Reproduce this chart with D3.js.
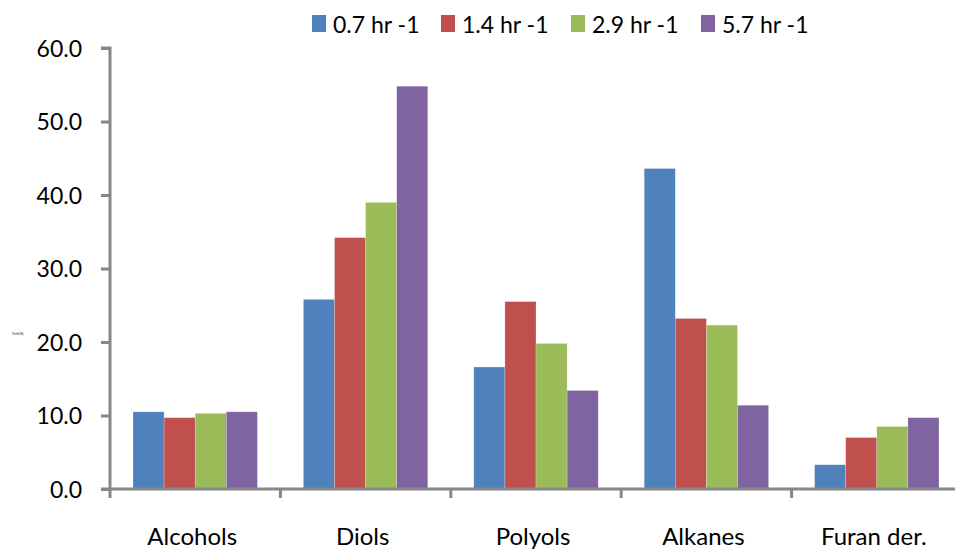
<!DOCTYPE html>
<html>
<head>
<meta charset="utf-8">
<script src="https://cdn.jsdelivr.net/npm/d3@7"></script>
<style>
  html, body { margin: 0; padding: 0; background: #fff; }
  svg { display: block; }
  text { font-family: "Lato", "Open Sans", sans-serif; fill: #000; }
</style>
</head>
<body>
<svg id="chart" width="955" height="550"></svg>
<script>
// Product groups and yields (%) at each space velocity
const categories = ["Alcohols", "Diols", "Polyols", "Alkanes", "Furan der."];
const seriesNames = ["0.7 hr -1", "1.4 hr -1", "2.9 hr -1", "5.7 hr -1"];
const seriesColors = ["#4F81BD", "#C0504D", "#9BBB59", "#8064A2"];
const values07 = [10.5, 25.8, 16.6, 43.6, 3.3];
const values14 = [9.7, 34.2, 25.5, 23.2, 7.0];
const values29 = [10.3, 39.0, 19.8, 22.3, 8.5];
const values57 = [10.5, 54.8, 13.4, 11.4, 9.7];
const yTicks = [0, 10, 20, 30, 40, 50, 60];

const seriesValues = [values07, values14, values29, values57];

const svg = d3.select("#chart");
const plotLeft = 110, plotRight = 962, plotTop = 48, plotBottom = 489;

const x = d3.scaleBand().domain(categories).range([plotLeft, plotRight]).paddingInner(0).paddingOuter(0);
const groupPad = 0.135;
const x1 = d3.scaleBand().domain(seriesNames)
  .range([x.bandwidth() * groupPad, x.bandwidth() * (1 - groupPad)]);
const y = d3.scaleLinear().domain([0, 60]).range([plotBottom, plotTop]);

const axisColor = "#878787";

// Bars
categories.forEach((cat, ci) => {
  seriesNames.forEach((s, si) => {
    const v = seriesValues[si][ci];
    svg.append("rect")
      .attr("x", x(cat) + x1(s))
      .attr("y", y(v))
      .attr("width", x1.bandwidth())
      .attr("height", y(0) - y(v))
      .attr("fill", seriesColors[si])
      .attr("stroke", "#ffffff")
      .attr("stroke-opacity", 0.35)
      .attr("stroke-width", 0.6);
  });
});

// Y axis
const yAxis = d3.axisLeft(y).tickValues(yTicks).tickFormat(d3.format(".1f")).tickSize(9).tickPadding(19);
const gy = svg.append("g").attr("transform", `translate(${plotLeft},0)`).call(yAxis);
gy.select(".domain").attr("stroke", axisColor).attr("stroke-width", 3).attr("d", `M-9,${plotTop}H0V${plotBottom}`);
gy.selectAll(".tick line").attr("stroke", axisColor).attr("stroke-width", 3);
gy.selectAll(".tick text").attr("font-size", 23).attr("font-family", "Lato, 'Open Sans', sans-serif").attr("fill", "#000").attr("dy", "0.36em");

// X axis: boundary ticks between categories
const xAxisG = svg.append("g");
xAxisG.append("line")
  .attr("x1", plotLeft - 9).attr("x2", 955)
  .attr("y1", plotBottom).attr("y2", plotBottom)
  .attr("stroke", axisColor).attr("stroke-width", 3);
const boundaries = categories.map(c => x(c));
xAxisG.selectAll(".xtick").data(boundaries).enter().append("line")
  .attr("x1", d => d).attr("x2", d => d)
  .attr("y1", plotBottom).attr("y2", plotBottom + 9)
  .attr("stroke", axisColor).attr("stroke-width", 3);
xAxisG.selectAll(".xlabel").data(categories).enter().append("text")
  .attr("x", d => x(d) + x.bandwidth() / 2 - 3)
  .attr("y", 545)
  .attr("text-anchor", "middle")
  .attr("font-size", 24)
  .text(d => d);

// Tiny axis title
svg.append("text").attr("x", 12).attr("y", 335).attr("font-size", 3).attr("fill", "#444").text("Yield (%)");

// Legend
const legendX = [312, 441, 571, 701];
const legend = svg.append("g");
seriesNames.forEach((s, i) => {
  legend.append("rect").attr("x", legendX[i]).attr("y", 15).attr("width", 14).attr("height", 17).attr("fill", seriesColors[i]);
  legend.append("text").attr("x", legendX[i] + 21).attr("y", 33).attr("font-size", 23).text(s);
});
</script>
</body>
</html>
